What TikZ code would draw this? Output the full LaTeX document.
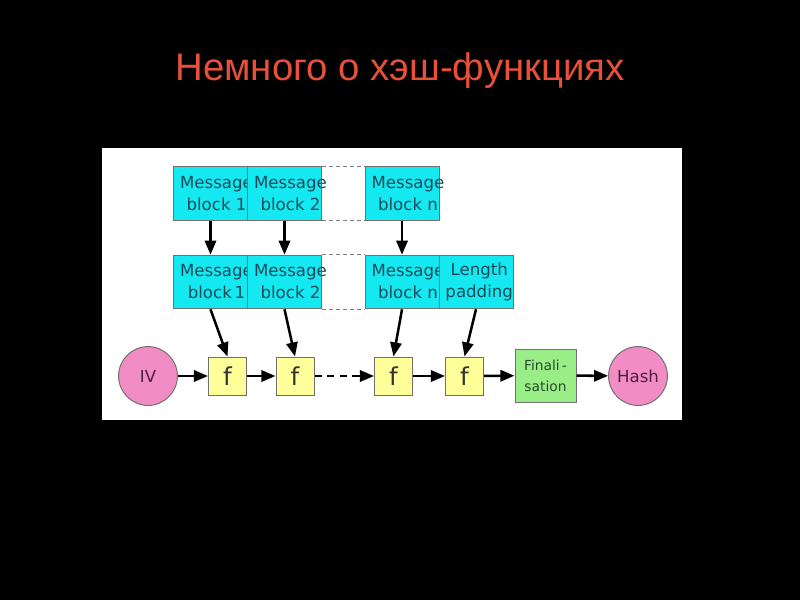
\documentclass[tikz,border=0pt]{standalone}
\usepackage{fontspec}
\setmainfont{DejaVu Sans}
\newfontfamily\titlefont{Liberation Sans}
\usetikzlibrary{arrows.meta}
\definecolor{titlered}{HTML}{E8503A}
\definecolor{blkcyan}{HTML}{14E8F0}
\definecolor{blktext}{HTML}{1A4A5A}
\definecolor{fyellow}{HTML}{FFFF99}
\definecolor{fingreen}{HTML}{99EE88}
\definecolor{fintext}{HTML}{2A4A2A}
\definecolor{circpink}{HTML}{F28CC4}
\definecolor{circtext}{HTML}{4A2040}
\definecolor{edgegray}{HTML}{707070}

\begin{document}
\begin{tikzpicture}[x=0.025cm, y=-0.025cm]
	 \tikzstyle{blk}=[draw=edgegray, fill=blkcyan, line width=0.7pt, minimum width=1.85cm, minimum height=1.34cm, inner sep=0pt]
	 \tikzstyle{blktxt}=[align=center, xshift=0.15cm, text=blktext, font=\fontsize{11.8}{15.6}\selectfont]
	 \tikzstyle{fbox}=[draw=edgegray, fill=fyellow, line width=0.7pt, minimum size=0.95cm, inner sep=0pt, text=black!80, font=\fontsize{17.5}{20}\selectfont]
	 \tikzstyle{endpt}=[circle, draw=edgegray, fill=circpink, line width=0.7pt, minimum size=1.47cm, inner sep=0pt, text=circtext, font=\fontsize{11.8}{14}\selectfont]
	 \tikzstyle{flow}=[draw, black, line width=1.8pt, -{Triangle[length=10pt,width=8pt]}]
	 \tikzstyle{gap}=[draw=gray, line width=0.8pt, dash pattern=on 3pt off 2pt]
	 % slide
	 \fill[black] (0,0) rectangle (800,600);
	 \fill[white] (102,148) rectangle (682,420);
	 \node[font=\titlefont\fontsize{27.3}{30}\selectfont, text=titlered, anchor=base] (title) at (400,80) {Немного о хэш-функциях};

	 \node[blk, label={[blktxt]center:Message\\block 1}] (blk1) at (210.5,193.5) {};
	 \node[blk, label={[blktxt]center:Message\\block 2}] (blk2) at (284.5,193.5) {};
	 \node[blk, label={[blktxt]center:Message\\block n}] (blkn) at (402,193.5) {};

	 \node[blk, label={[blktxt]center:Message\\block\,1}] (pad1) at (210.5,282) {};
	 \node[blk, label={[blktxt]center:Message\\block 2}] (pad2) at (284.5,282) {};
	 \node[blk, label={[blktxt]center:Message\\block n}] (padn) at (402,282) {};
	 \node[blk, label={[blktxt, xshift=-0.07cm]center:Length\\padding}] (len) at (476,282) {};

	 \node[endpt] (iv) at (148,376) {IV};
	 \node[fbox] (f1) at (227.5,376) {f};
	 \node[fbox] (f2) at (295,376) {f};
	 \node[fbox] (f3) at (393.5,376) {f};
	 \node[fbox] (f4) at (464.5,376) {f};
	 \node[draw=edgegray, fill=fingreen, line width=0.7pt, minimum width=1.525cm, minimum height=1.325cm, inner sep=0pt, align=center, text=fintext, font=\fontsize{9.8}{15}\selectfont] (fin) at (545.5,375.5) {Finali\,-\\sation};
	 \node[endpt] (hash) at (638,376) {Hash};

	 \draw[gap] (blk2.north east) -- (blkn.north west);
	 \draw[gap] (blk2.south east) -- (blkn.south west);
	 \draw[gap] (pad2.north east) -- (padn.north west);
	 \draw[gap] (pad2.south east) -- (padn.south west);

	 \draw[flow] (blk1) -- (pad1);
	 \draw[flow] (blk2) -- (pad2);
	 \draw[flow] (blkn) -- (padn);
	 \draw[flow] (pad1.south) -- (f1.north);
	 \draw[flow] (pad2.south) -- (f2.north);
	 \draw[flow] (padn.south) -- (f3.north);
	 \draw[flow] (len.south) -- (f4.north);

	 \draw[flow] (iv) -- (f1);
	 \draw[flow] (f1) -- (f2);
	 \draw[flow, dash pattern=on 5pt off 4pt] (f2) -- (f3);
	 \draw[flow] (f3) -- (f4);
	 \draw[flow] (f4) -- (fin);
	 \draw[flow] (fin) -- (hash);
 \end{tikzpicture}
\end{document}
